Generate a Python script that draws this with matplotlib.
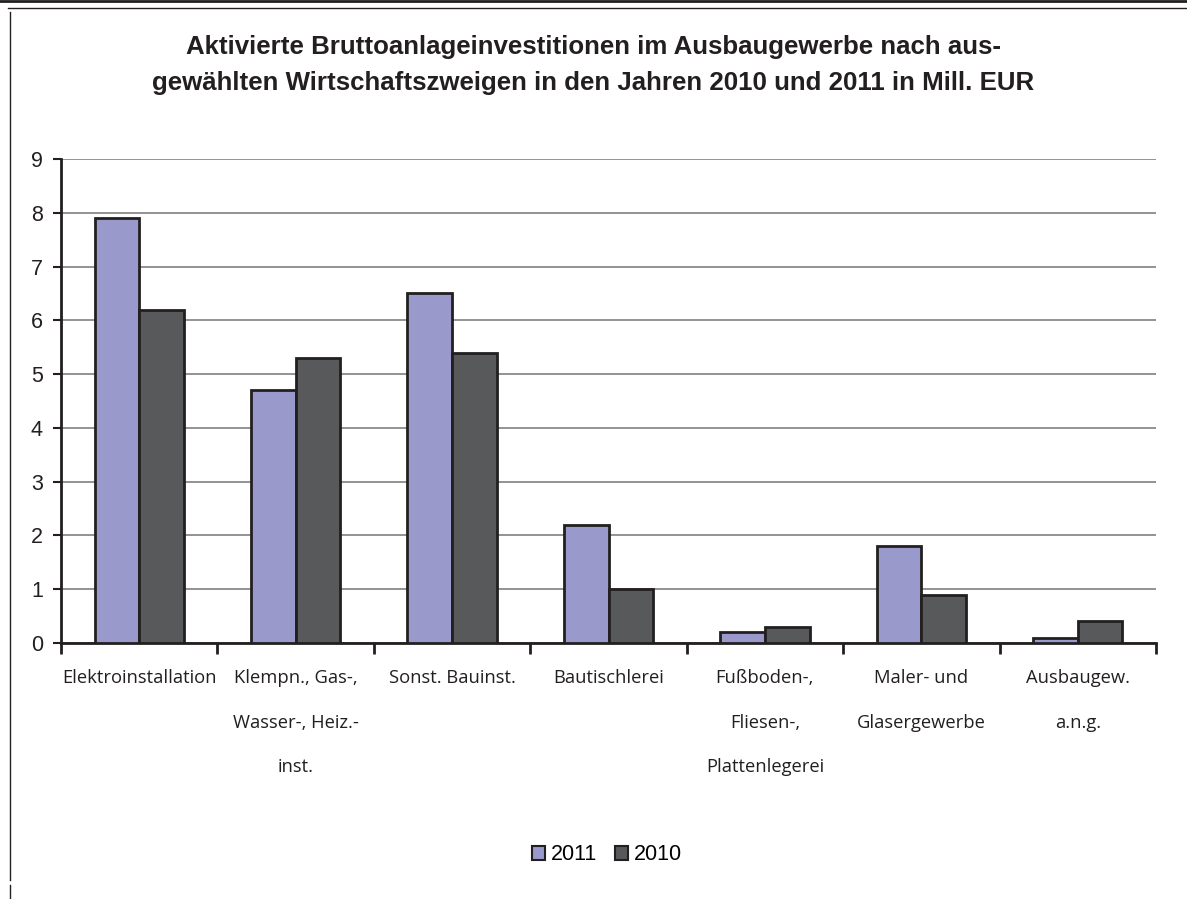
import numpy as np
import matplotlib.pyplot as plt
from matplotlib.lines import Line2D
from matplotlib.patches import Patch

# Data
categories = [
    "Elektroinstallation",
    "Klempn., Gas-,\nWasser-, Heiz.-\ninst.",
    "Sonst. Bauinst.",
    "Bautischlerei",
    "Fußboden-,\nFliesen-,\nPlattenlegerei",
    "Maler- und\nGlasergewerbe",
    "Ausbaugew.\na.n.g.",
]
values_2011 = [7.9, 4.7, 6.5, 2.2, 0.2, 1.8, 0.1]
values_2010 = [6.2, 5.3, 5.4, 1.0, 0.3, 0.9, 0.4]
series_labels = ["2011", "2010"]
y_ticks = list(range(0, 10))

color_2011 = "#9999CC"
color_2010 = "#58595B"
dark = "#231F20"

fig = plt.figure(figsize=(11.87, 8.99), dpi=100)
ax = fig.add_axes([61 / 1187, 1 - 643 / 899, (1156 - 61) / 1187, (643 - 159) / 899])

x = np.arange(len(categories))
w = 0.285
ax.bar(x - w / 2, values_2011, w, color=color_2011, edgecolor=dark, linewidth=2, zorder=3)
ax.bar(x + w / 2, values_2010, w, color=color_2010, edgecolor=dark, linewidth=2, zorder=3)

ax.set_xlim(-0.5, len(categories) - 0.5)
ax.set_ylim(0, 9)
ax.set_yticks(y_ticks)
ax.set_yticklabels([str(t) for t in y_ticks], fontsize=15.5, family="Liberation Sans", color=dark)
ax.yaxis.grid(True, color="#808080", linewidth=1.2, zorder=0)
ax.set_axisbelow(True)

# category ticks at boundaries, labels in the middle
ax.set_xticks(np.arange(len(categories) + 1) - 0.5)
ax.set_xticklabels([])
ax.set_xticks(x, minor=True)
ax.set_xticklabels(categories, minor=True, fontsize=13.2, family="Open Sans",
                   linespacing=2.87, va="top", color=dark)
ax.tick_params(axis="x", which="major", length=8, width=2, direction="out", color=dark)
ax.tick_params(axis="x", which="minor", length=0, pad=19)
ax.tick_params(axis="y", length=6, width=1.5, color=dark, pad=7)

for s in ["top", "right"]:
    ax.spines[s].set_visible(False)
for s in ["left", "bottom"]:
    ax.spines[s].set_linewidth(2)
    ax.spines[s].set_color(dark)

fig.text(0.5, 1 - 65 / 899,
         "Aktivierte Bruttoanlageinvestitionen im Ausbaugewerbe nach aus-\n"
         "gewählten Wirtschaftszweigen in den Jahren 2010 und 2011 in Mill. EUR",
         ha="center", va="center", fontsize=18.6, fontweight="bold",
         family="Liberation Sans", color=dark, linespacing=1.6)

handles = [Patch(facecolor=color_2011, edgecolor=dark, linewidth=1.5),
           Patch(facecolor=color_2010, edgecolor=dark, linewidth=1.5)]
fig.legend(handles, series_labels, loc="center", bbox_to_anchor=(607 / 1187, 1 - 855 / 899),
           ncol=2, frameon=False, handlelength=0.6, handleheight=0.6, handletextpad=0.3,
           columnspacing=0.8, prop={"family": "Liberation Sans", "size": 15.5})

# page frame lines
fig.add_artist(Line2D([0, 1], [1 - 1 / 899, 1 - 1 / 899], color=dark, linewidth=2))
fig.add_artist(Line2D([8 / 1187, 1], [1 - 8 / 899, 1 - 8 / 899], color=dark, linewidth=1))
fig.add_artist(Line2D([10 / 1187, 10 / 1187], [1 - 12 / 899, 1 - 880 / 899], color=dark, linewidth=1))
fig.add_artist(Line2D([10 / 1187, 10 / 1187], [1 - 885 / 899, 0], color=dark, linewidth=1))

fig.savefig("out.png", dpi=100)
